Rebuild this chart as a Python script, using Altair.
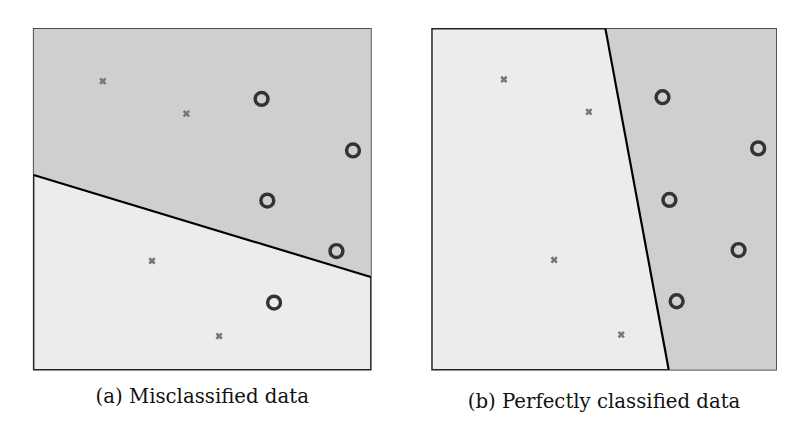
import altair as alt
import pandas as pd

# panel (a)
a_cross_x = [2.05, 4.53, 3.51, 5.50]
a_cross_y = [8.46, 7.51, 3.19, 0.99]
a_circ_x = [6.76, 9.47, 6.93, 8.98, 7.13]
a_circ_y = [7.94, 6.43, 4.96, 3.48, 1.97]
a_line_x = [0, 10]
a_line_y = [5.71, 2.72]

# panel (b)
b_cross_x = [2.09, 4.56, 3.55, 5.50]
b_cross_y = [8.51, 7.56, 3.22, 1.03]
b_circ_x = [6.70, 9.48, 6.90, 8.91, 7.11]
b_circ_y = [7.99, 6.49, 4.98, 3.51, 2.01]
b_line_x = [5.04, 6.88]
b_line_y = [10, 0]

sx = alt.Scale(domain=[0, 10], nice=False, zero=False)
sy = alt.Scale(domain=[0, 10], nice=False, zero=False)

xshape = "M-1,-1L1,1M-1,1L1,-1"


def panel(cx, cy, ox, oy, lx, ly, caption, vertical, w, h):
    crosses = pd.DataFrame({"x": cx, "y": cy})
    circles = pd.DataFrame({"x": ox, "y": oy})
    line = pd.DataFrame({"x": lx, "y": ly})

    if vertical:
        # dark region right of the line
        region = pd.DataFrame({"x": lx, "x2": [10, 10], "y": ly})
        shade = alt.Chart(region).mark_area(orient="horizontal", color="#cfcfcf").encode(
            x=alt.X("x:Q", scale=sx, axis=None),
            x2="x2:Q",
            y=alt.Y("y:Q", scale=sy, axis=None),
        )
    else:
        region = pd.DataFrame({"x": lx, "y": ly, "y2": [10, 10]})
        shade = alt.Chart(region).mark_area(color="#cfcfcf").encode(
            x=alt.X("x:Q", scale=sx, axis=None),
            y=alt.Y("y:Q", scale=sy, axis=None),
            y2="y2:Q",
        )

    rule = alt.Chart(line).mark_line(color="black", strokeWidth=2.2).encode(
        x=alt.X("x:Q", scale=sx, axis=None),
        y=alt.Y("y:Q", scale=sy, axis=None),
    )
    xs = alt.Chart(crosses).mark_point(
        shape=xshape, filled=False, color="#777777", strokeWidth=2.6, size=30, opacity=1
    ).encode(
        x=alt.X("x:Q", scale=sx, axis=None),
        y=alt.Y("y:Q", scale=sy, axis=None),
    )
    os_ = alt.Chart(circles).mark_point(
        shape="circle", filled=False, color="#333333", strokeWidth=3.5, size=170, opacity=1
    ).encode(
        x=alt.X("x:Q", scale=sx, axis=None),
        y=alt.Y("y:Q", scale=sy, axis=None),
    )
    return alt.layer(shade, rule, xs, os_).properties(
        width=w, height=h,
        title=alt.TitleParams(caption, orient="bottom", font="DejaVu Serif",
                              fontSize=20, fontWeight="normal", color="#111111", offset=18),
    )


left = panel(a_cross_x, a_cross_y, a_circ_x, a_circ_y, a_line_x, a_line_y,
             "(a) Misclassified data", False, 342, 346)
right = panel(b_cross_x, b_cross_y, b_circ_x, b_circ_y, b_line_x, b_line_y,
              "(b) Perfectly classified data", True, 349, 346)

chart = alt.hconcat(left, right, spacing=55).properties(
    padding={"left": 20, "top": 12, "right": 5, "bottom": 5}
).configure_view(
    fill="#ececec", stroke="#222222", strokeWidth=1.5
).configure_concat(spacing=55)

chart.save("out.html", embed_options={"renderer": "svg", "actions": False})
